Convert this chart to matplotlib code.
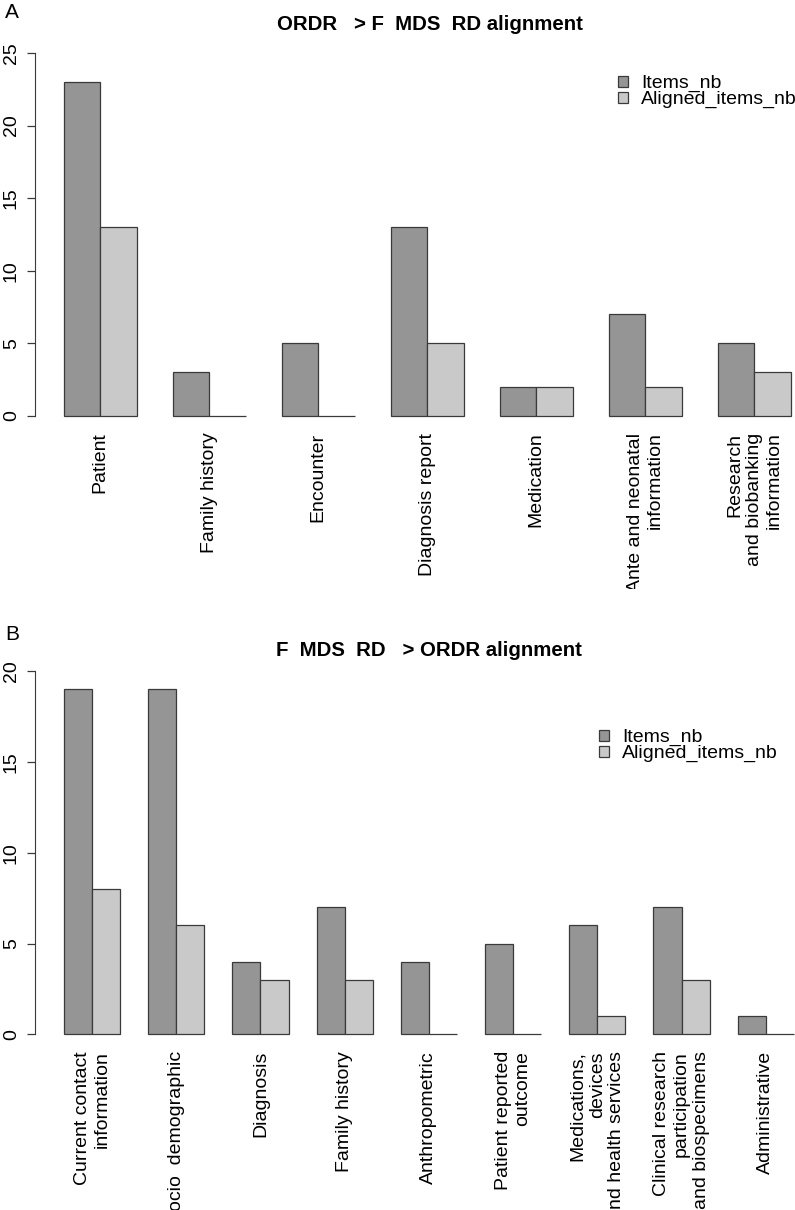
import matplotlib
matplotlib.use("Agg")
import matplotlib.pyplot as plt
from matplotlib.patches import Patch
from matplotlib.transforms import Bbox
import numpy as np

plt.rcParams['font.family'] = ['Liberation Sans', 'DejaVu Sans']

# Panel A : ORDR -> F-MDS-RD
A_CATS = ["Patient", "Family history", "Encounter", "Diagnosis report", "Medication",
          "Ante and neonatal\ninformation", "Research\nand biobanking\ninformation"]
A_ITEMS = [23, 3, 5, 13, 2, 7, 5]
A_ALIGNED = [13, 0, 0, 5, 2, 2, 3]

# Panel B : F-MDS-RD -> ORDR
B_CATS = ["Current contact\ninformation", "Socio  demographic", "Diagnosis", "Family history",
          "Anthropometric", "Patient reported\noutcome",
          "Medications,\ndevices\nand health services",
          "Clinical research\nparticipation\nand biospecimens", "Administrative"]
B_ITEMS = [19, 19, 4, 7, 4, 5, 6, 7, 1]
B_ALIGNED = [8, 6, 3, 3, 0, 0, 1, 3, 0]

LEGEND = ["Items_nb", "Aligned_items_nb"]

W, H = 795, 1210
DARK = "#959595"
LIGHT = "#c9c9c9"
EDGE = "#3a3a3a"
FS = 14


def add_px_axes(fig, left, right, top, bottom):
    return fig.add_axes([left / W, 1 - bottom / H, (right - left) / W, (bottom - top) / H])


def draw_panel(ax, cats, items, aligned, ymax, clip_y):
    n = len(cats)
    base = 1 + 3 * np.arange(n)
    ax.bar(base + 0.5, items, width=1, color=DARK, edgecolor=EDGE, lw=0.9)
    ax.bar(base + 1.5, aligned, width=1, color=LIGHT, edgecolor=EDGE, lw=0.9)

    pad = 0.04 * (3 * n - 1)
    ax.set_xlim(1 - pad, 3 * n + pad)
    ax.set_ylim(-0.04 * ymax, ymax * 1.04)

    for s in ["top", "right", "bottom"]:
        ax.spines[s].set_visible(False)
    ax.spines["left"].set_bounds(0, ymax)
    ax.spines["left"].set_color(EDGE)
    ax.set_yticks(np.arange(0, ymax + 1, 5))
    ax.tick_params(axis="y", length=5.8, width=0.9, color=EDGE, pad=5,
                   labelsize=FS, labelrotation=90)
    for lab in ax.get_yticklabels():
        lab.set_va("center")

    ax.set_xticks(base + 1, cats)
    ax.tick_params(axis="x", length=0, pad=1.5, labelsize=FS)
    for lab in ax.get_xticklabels():
        lab.set_rotation(90)
        lab.set_ha("center")
        lab.set_va("top")
        lab.set_multialignment("right")
        lab.set_clip_on(True)
        lab.set_clip_box(Bbox([[0, H - clip_y], [W, H]]))

    handles = [Patch(facecolor=DARK, edgecolor=EDGE, lw=0.9),
               Patch(facecolor=LIGHT, edgecolor=EDGE, lw=0.9)]
    return handles


fig = plt.figure(figsize=(W / 100, H / 100), dpi=100)

legend_kw = dict(loc="upper left", frameon=False, fontsize=FS, handlelength=0.5,
                 handleheight=0.5, handletextpad=0.7, labelspacing=-0.05,
                 borderpad=0, borderaxespad=0)

axA = add_px_axes(fig, 34.9, 819.7, 38.5, 430.5)
hA = draw_panel(axA, A_CATS, A_ITEMS, A_ALIGNED, 25, 589)
fig.legend(hA, LEGEND, bbox_to_anchor=(618 / W, 1 - 75 / H), **legend_kw)

axB = add_px_axes(fig, 34.8, 823.0, 656.5, 1049.0)
hB = draw_panel(axB, B_CATS, B_ITEMS, B_ALIGNED, 20, H)
fig.legend(hB, LEGEND, bbox_to_anchor=(599 / W, 1 - 729 / H), **legend_kw)

fig.text(430 / W, 1 - 25 / H, "ORDR   > F  MDS  RD alignment", ha="center", va="center",
         fontsize=14.7, fontweight="bold")
fig.text(429 / W, 1 - 650 / H, "F  MDS  RD   > ORDR alignment", ha="center", va="center",
         fontsize=14.7, fontweight="bold")
fig.text(12 / W, 1 - 13 / H, "A", ha="center", va="center", fontsize=FS + 1)
fig.text(12 / W, 1 - 634 / H, "B", ha="center", va="center", fontsize=FS + 1)

fig.savefig("out.png", dpi=100)
